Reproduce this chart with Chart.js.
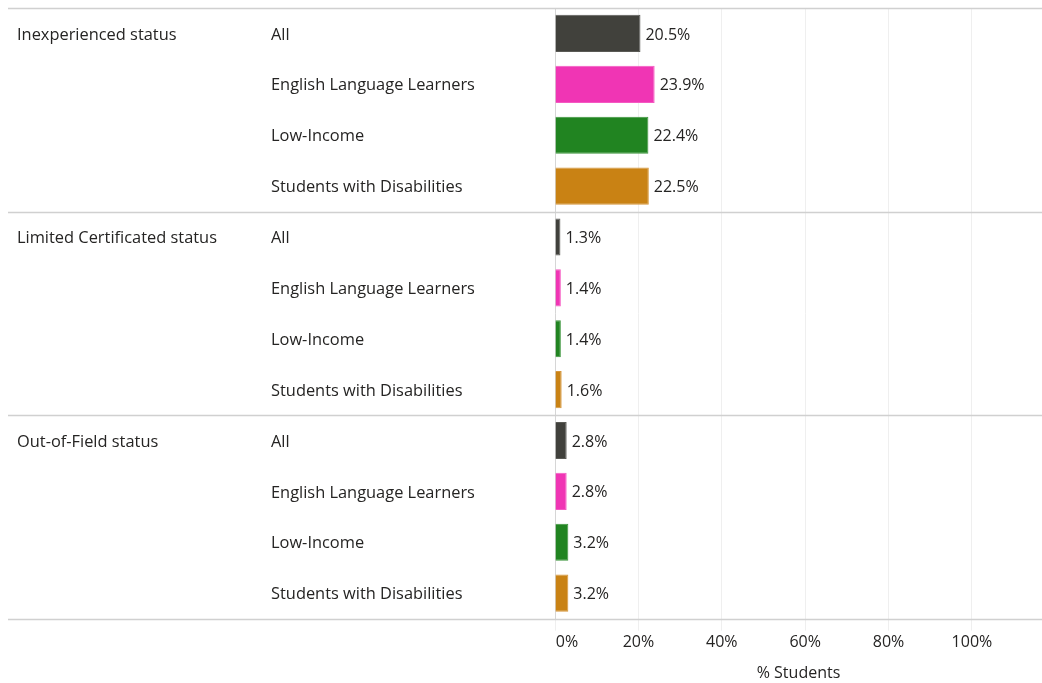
<!DOCTYPE html>
<html>
<head>
<meta charset="utf-8">
<script src="https://cdn.jsdelivr.net/npm/chart.js@4/dist/chart.umd.min.js"></script>
<style>
  html, body { margin: 0; padding: 0; background: #fff; }
  #wrap { width: 1042px; height: 683px; position: relative; }
</style>
</head>
<body>
<div id="wrap"><canvas id="chart"></canvas></div>
<script>
const groups = ['Inexperienced status', 'Limited Certificated status', 'Out-of-Field status'];
const subgroups = ['All', 'English Language Learners', 'Low-Income', 'Students with Disabilities'];
const inexperienced = [20.5, 23.9, 22.4, 22.5];
const limitedCert = [1.3, 1.4, 1.4, 1.6];
const outOfField = [2.8, 2.8, 3.2, 3.2];
const xTicks = [0, 20, 40, 60, 80, 100];
const colors = ['#41413c', '#f035b4', '#218421', '#c98214'];
const borders = ['#5a5a55', '#f558c2', '#3c953c', '#d6963a'];

const labels = [];
const values = [];
[inexperienced, limitedCert, outOfField].forEach(arr => {
  subgroups.forEach((s, i) => { labels.push(s); values.push(arr[i]); });
});

const FONT = '"Segoe UI", "Open Sans", sans-serif';
const TEXT = '#252423';

const sidePlugin = {
  id: 'side',
  afterDraw(chart) {
    const ctx = chart.ctx;
    const y = chart.scales.y;
    const area = chart.chartArea;
    const step = (area.bottom - area.top) / labels.length;
    ctx.save();
    ctx.font = '16.4px ' + FONT;
    ctx.fillStyle = TEXT;
    ctx.textBaseline = 'middle';
    ctx.textAlign = 'left';
    labels.forEach((l, i) => {
      const py = y.getPixelForValue(i) + 1.5;
      ctx.fillText(l, 271, py);
      if (i % subgroups.length === 0) ctx.fillText(groups[i / subgroups.length], 17, py);
    });
    // group separators
    ctx.strokeStyle = '#d0d0d0';
    ctx.lineWidth = 1.5;
    for (let g = 0; g <= groups.length; g++) {
      const py = Math.round(area.top + g * subgroups.length * step) + 0.5;
      ctx.beginPath();
      ctx.moveTo(8, py);
      ctx.lineTo(1042, py);
      ctx.stroke();
    }
    ctx.restore();
  },
  afterDatasetsDraw(chart) {
    const ctx = chart.ctx;
    const meta = chart.getDatasetMeta(0);
    ctx.save();
    ctx.font = '16px ' + FONT;
    ctx.fillStyle = TEXT;
    ctx.textBaseline = 'middle';
    ctx.textAlign = 'left';
    meta.data.forEach((bar, i) => {
      ctx.fillText(values[i].toFixed(1) + '%', bar.x + 5, bar.y + 1.5);
    });
    ctx.restore();
  }
};

new Chart(document.getElementById('chart'), {
  type: 'bar',
  data: {
    labels: labels,
    datasets: [{
      data: values,
      backgroundColor: labels.map((_, i) => colors[i % 4]),
      borderColor: labels.map((_, i) => borders[i % 4]),
      borderWidth: 1,
      barPercentage: 0.73,
      categoryPercentage: 1.0
    }]
  },
  options: {
    indexAxis: 'y',
    responsive: true,
    maintainAspectRatio: false,
    animation: false,
    layout: { padding: { top: 8, right: 0, bottom: 0, left: 0 } },
    plugins: { legend: { display: false }, tooltip: { enabled: false } },
    scales: {
      y: {
        ticks: { display: false },
        grid: { display: false },
        border: { display: true, color: '#d6d6d6', width: 1 },
        afterFit(scale) { scale.width = 555; }
      },
      x: {
        min: 0,
        max: 116.8,
        afterBuildTicks(scale) { scale.ticks = xTicks.map(v => ({ value: v })); },
        ticks: {
          callback: v => (v === 0 ? '\u2002\u2002\u2002' : '') + v + '%',
          color: TEXT,
          font: { family: FONT, size: 16 },
          padding: 2,
          maxRotation: 0
        },
        grid: { color: '#efefef', tickLength: 12, drawOnChartArea: true },
        border: { display: false },
        title: {
          display: true,
          text: '% Students',
          color: TEXT,
          font: { family: FONT, size: 16 },
          padding: { top: 10, bottom: 0 }
        }
      }
    }
  },
  plugins: [sidePlugin]
});
</script>
</body>
</html>
